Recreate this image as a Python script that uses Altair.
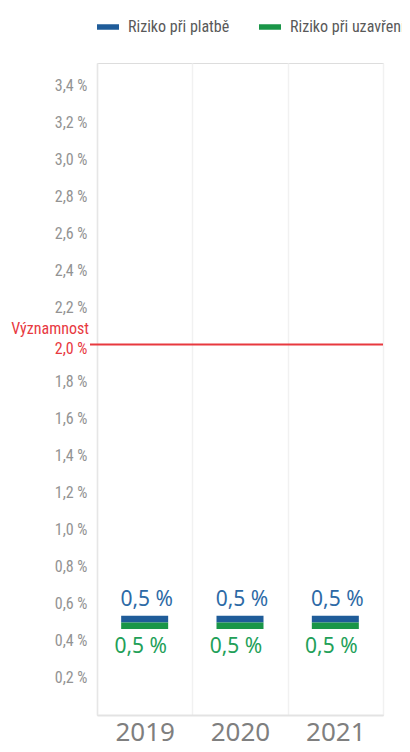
import altair as alt
import pandas as pd

# ---- data ----
years = ["2019", "2020", "2021"]
riziko_platba = [0.5, 0.5, 0.5]
riziko_uzavreni = [0.5, 0.5, 0.5]
series_names = ["Riziko při platbě", "Riziko při uzavření"]
threshold = [2.0]
threshold_label = "Významnost"
y_ticks = [0.2, 0.4, 0.6, 0.8, 1.0, 1.2, 1.4, 1.6, 1.8, 2.0, 2.2, 2.4, 2.6, 2.8, 3.0, 3.2, 3.4]

# ---- styles ----
series_colors = ["#1f5c99", "#1a9648"]
label_colors = ["#2d6aa6", "#22a058"]
red = "#e8393f"
narrow = "Liberation Sans Narrow, Roboto Condensed, Arial Narrow, sans-serif"
geo = "Noto Sans"

df = pd.DataFrame({
    "rok": years * 2,
    "serie": [series_names[0]] * len(years) + [series_names[1]] * len(years),
    "hodnota": riziko_platba + riziko_uzavreni,
})
df["popisek"] = df["hodnota"].map(lambda v: f"{v:.1f}".replace(".", ",") + " %")
thr = pd.DataFrame({"hodnota": threshold})

y_scale = alt.Scale(domain=[0, 3.52], nice=False, zero=True)
y_axis = alt.Axis(
    values=y_ticks, title=None, grid=False, ticks=False,
    labelExpr="replace(format(datum.value, '.1f'), '.', ',') + ' %'",
    labelFont=narrow, labelFontSize=16, labelFontWeight="normal",
    labelColor=alt.condition("datum.value == 2", alt.value(red), alt.value("#939393")),
    labelOffset=alt.condition("datum.value == 2", alt.value(4), alt.value(0)),
    labelPadding=10, domainColor="#e6e6e6", domainWidth=1.5,
)
x_enc = alt.X(
    "rok:N",
    scale=alt.Scale(domain=years, paddingInner=0, paddingOuter=0),
    axis=alt.Axis(
        title=None, labelAngle=0, labelFont=geo, labelFontSize=26,
        labelColor="#7f7f7f", ticks=False, tickBand="extent",
        domainColor="#e3e3e3", domainWidth=2,
        grid=True, gridColor="#f1f1f1", gridWidth=1.5, labelPadding=4,
    ),
)
y_enc = alt.Y("hodnota:Q", scale=y_scale, axis=y_axis)

color_enc = alt.Color(
    "serie:N",
    scale=alt.Scale(domain=series_names, range=series_colors),
    legend=alt.Legend(
        title=None, orient="none", legendX=0, legendY=-47,
        direction="horizontal",
        symbolType="M-1,-0.25H1V0.25H-1Z", symbolSize=484,
        symbolStrokeWidth=0, symbolOpacity=1,
        labelFont=narrow, labelFontSize=16, labelColor="#595959",
        labelOffset=9, columnPadding=29, padding=0, labelLimit=300,
    ),
)

base = alt.Chart(df)

tick_top = base.transform_filter(alt.datum.serie == series_names[0]).mark_tick(
    thickness=6.6, size=47, yOffset=-3.3, opacity=1
).encode(x=x_enc, y=y_enc, color=color_enc)

tick_bot = base.transform_filter(alt.datum.serie == series_names[1]).mark_tick(
    thickness=6.6, size=47, yOffset=3.3, opacity=1
).encode(x=x_enc, y=y_enc, color=color_enc)

lab_top = base.transform_filter(alt.datum.serie == series_names[0]).mark_text(
    font=geo, fontSize=21, dy=-22, dx=2, color=label_colors[0]
).encode(x=x_enc, y=y_enc, text="popisek:N")

lab_bot = base.transform_filter(alt.datum.serie == series_names[1]).mark_text(
    font=geo, fontSize=21, dy=25, dx=-4, color=label_colors[1]
).encode(x=x_enc, y=y_enc, text="popisek:N")

rule = alt.Chart(thr).mark_rule(color=red, strokeWidth=2).encode(
    y=y_enc, x=alt.value(-7), x2=alt.value(286)
)

rule_text = alt.Chart(thr).mark_text(
    align="right", baseline="middle", dy=-16, color=red, font=narrow, fontSize=16
).encode(y=y_enc, x=alt.value(-8), text=alt.value(threshold_label))

chart = alt.layer(tick_top, tick_bot, lab_top, lab_bot, rule, rule_text).properties(
    width=286, height=652,
    autosize=alt.AutoSizeParams(type="none"),
    padding={"left": 89, "top": 55, "right": 19, "bottom": 29},
).configure_view(stroke=None).configure(background="white")

chart.save("out.html", embed_options={"renderer": "svg", "actions": False})
